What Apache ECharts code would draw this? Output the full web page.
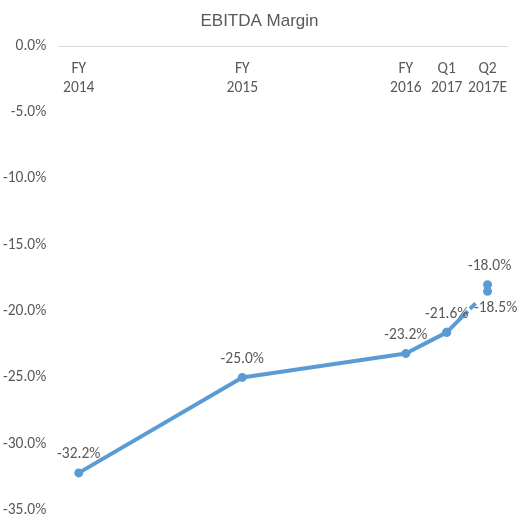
<!DOCTYPE html>
<html><head><meta charset="utf-8">
<script src="https://cdn.jsdelivr.net/npm/echarts@6/dist/echarts.min.js"></script>
<style>html,body{margin:0;padding:0;background:#fff}#c{width:519px;height:521px}</style>
</head><body><div id="c"></div>
<script>
const categories = ['FY\n2014','','','','FY\n2015','','','','FY\n2016','Q1\n2017','Q2\n2017E'];
const actualValues = [-32.2,null,null,null,-25.0,null,null,null,-23.2,-21.6,null];
const estimateValues = [null,null,null,null,null,null,null,null,null,-21.6,-18.5];
const targetValues = [null,null,null,null,null,null,null,null,null,null,-18.0];
const yTicks = {min:-35, max:0, interval:5};

const chart = echarts.init(document.getElementById('c'), null, {renderer:'canvas'});
const blue = '#5B9BD5';
const txt = '#595959';
const fam = 'Carlito, Calibri, Lato, sans-serif';
const fs = 15.5;
const lbl = {show:true, position:'top', distance:6, color:txt, fontSize:fs, fontFamily:fam,
  formatter: p => p.value == null ? '' : p.value.toFixed(1) + '%'};
chart.setOption({
  animation:false,
  title:{text:'EBITDA Margin', left:'center', top:8, textStyle:{color:txt, fontSize:17, fontWeight:'normal', fontFamily:'"Liberation Sans", Arial, sans-serif'}},
  grid:{left:58, right:11, top:46, bottom:11},
  xAxis:{type:'category', data:categories, position:'top', boundaryGap:true,
    axisLine:{show:true, lineStyle:{color:'#d9d9d9', width:1}},
    axisTick:{show:false},
    axisLabel:{inside:true, interval:0, margin:13, color:txt, fontSize:fs, lineHeight:19.5, fontFamily:fam}},
  yAxis:{type:'value', min:yTicks.min, max:yTicks.max, interval:yTicks.interval,
    splitLine:{show:false}, axisLine:{show:false}, axisTick:{show:false},
    axisLabel:{color:txt, fontSize:fs, margin:12, fontFamily:fam, formatter:v => v.toFixed(1) + '%'}},
  series:[
    {type:'line', data:actualValues, connectNulls:true, symbol:'circle', symbolSize:9,
      lineStyle:{color:blue, width:4}, itemStyle:{color:blue},
      label:Object.assign({}, lbl, {})},
    {type:'line', data:estimateValues, symbol:'circle', symbolSize:9, showSymbol:true,
      lineStyle:{color:blue, width:4, type:[30,3,8,30]}, itemStyle:{color:blue},
      label:Object.assign({}, lbl, {position:'bottom', distance:4, offset:[8,0],
        formatter: p => p.dataIndex === 10 ? p.value.toFixed(1) + '%' : ''})},
    {type:'line', data:targetValues, symbol:'circle', symbolSize:9,
      lineStyle:{color:blue, width:4}, itemStyle:{color:blue},
      label:Object.assign({}, lbl, {offset:[2,0]})}
  ]
});
</script></body></html>
